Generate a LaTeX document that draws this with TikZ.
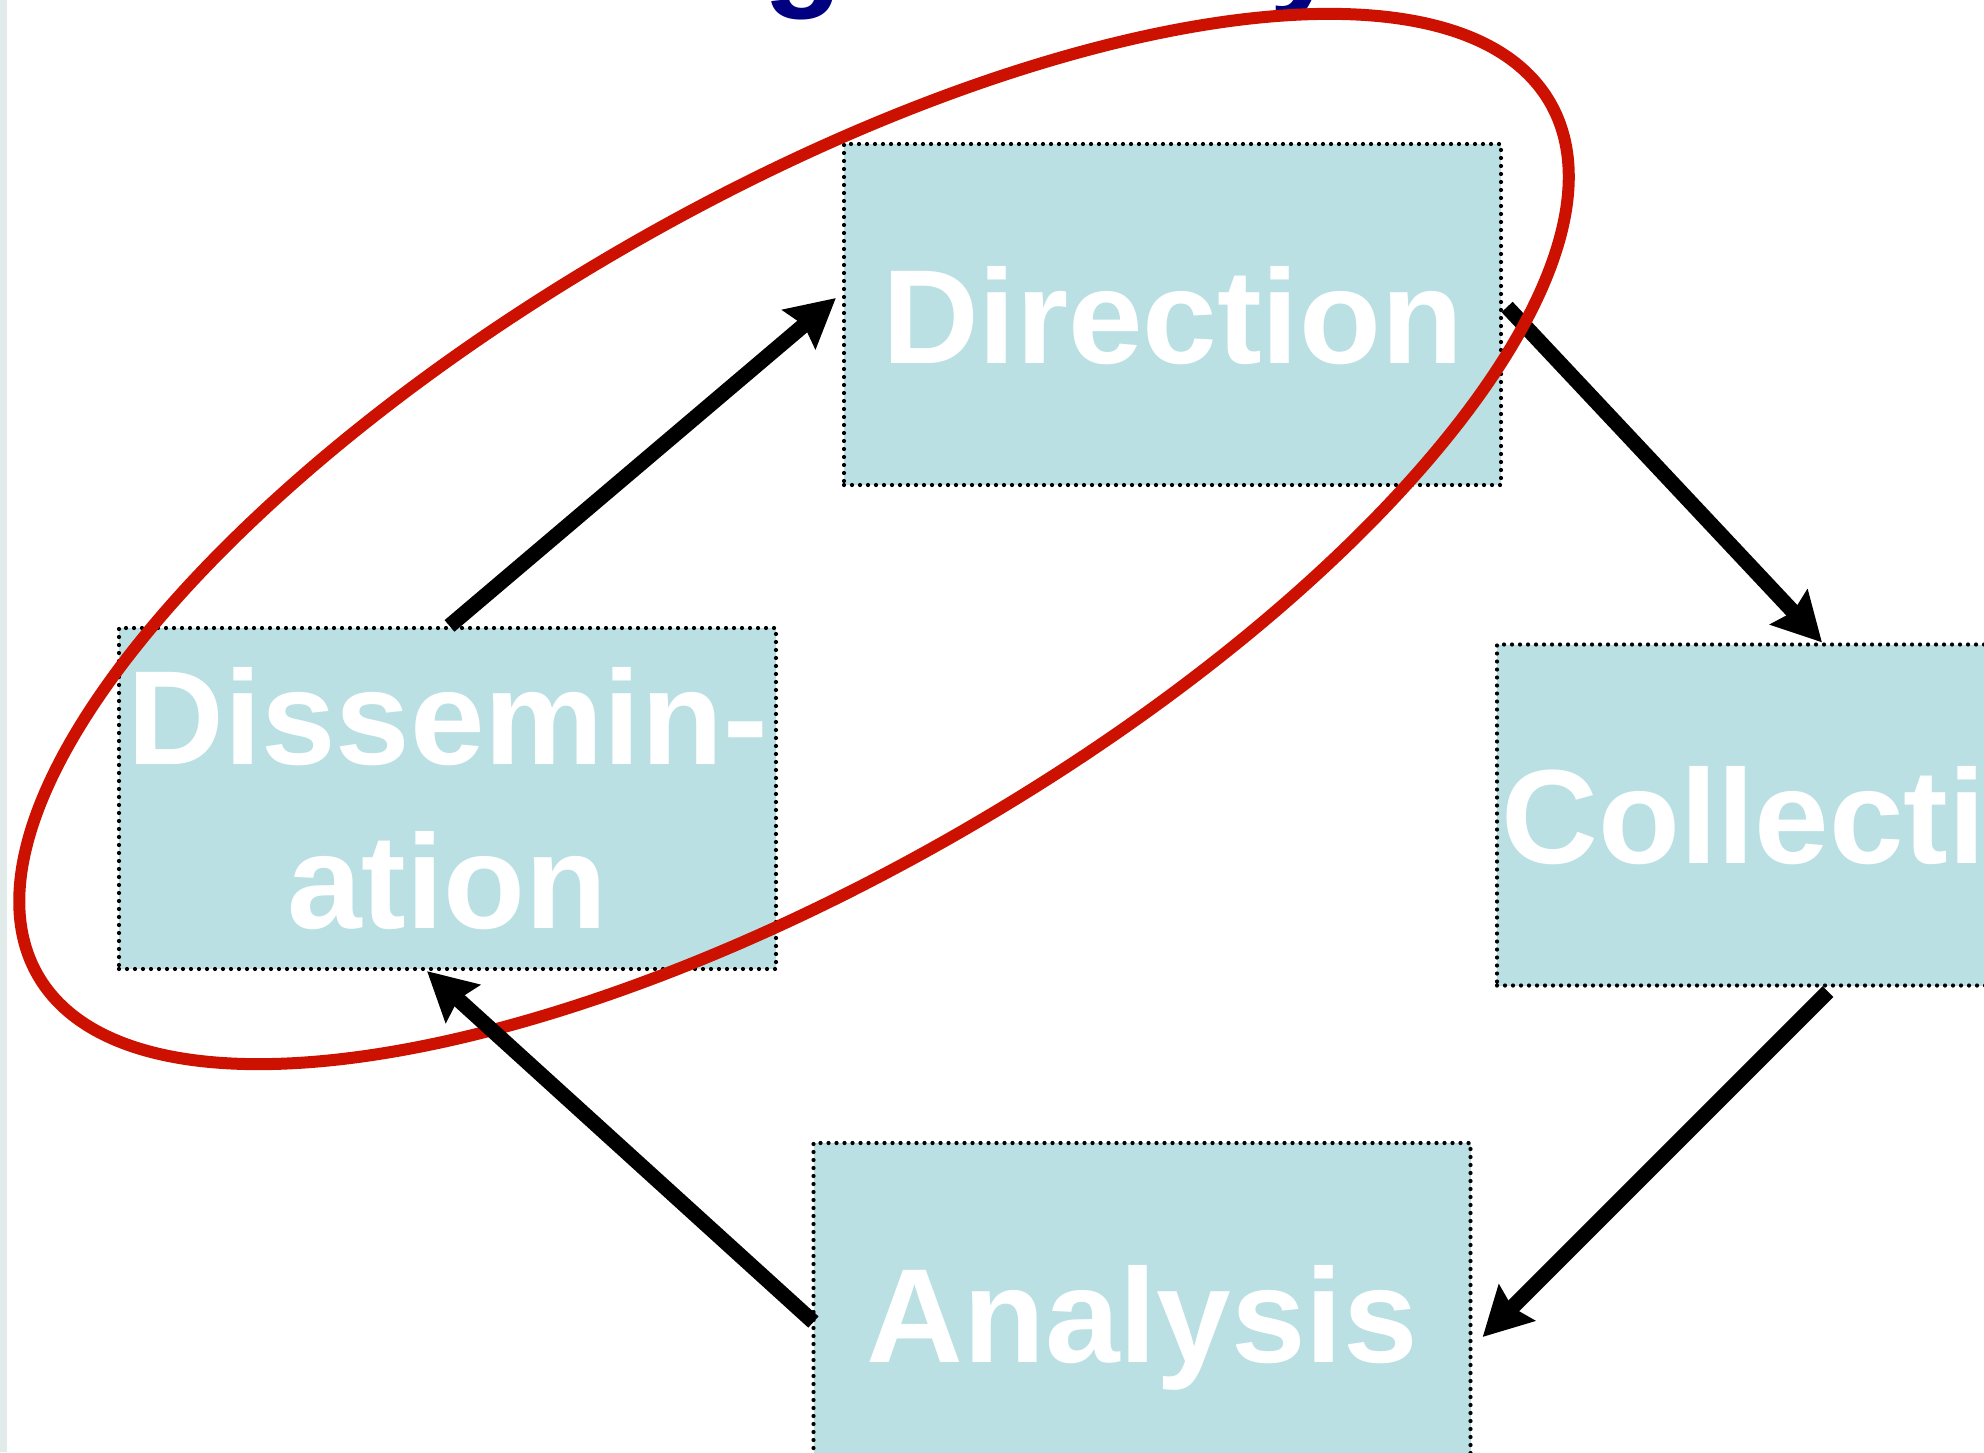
\documentclass[tikz,border=0pt]{standalone}
\usepackage{fontspec}
\setmainfont{Liberation Sans}
\usetikzlibrary{arrows.meta}
\definecolor{boxfill}{RGB}{186,224,227}
\definecolor{ringred}{RGB}{204,17,0}
\definecolor{titleblue}{RGB}{0,0,128}
\definecolor{stripgrey}{RGB}{225,236,234}
\tikzset{
  stagebox/.style={draw=black, line width=2.1pt, dash pattern=on 0pt off 4pt,
    line cap=round, fill=boxfill, minimum width=328.5pt, minimum height=170.5pt,
    inner sep=0pt, text=white, align=center,
    font=\fontsize{67}{82}\selectfont\bfseries},
  flow/.style={draw=black, line width=7.6pt, line cap=butt,
    -{Stealth[length=24pt, width=25pt, inset=3pt]}},
  ring/.style={draw=ringred, line width=6pt}
}
\begin{document}
\begin{tikzpicture}[x=0.5pt, y=-0.5pt]
\useasboundingbox (0,0) rectangle (1984,1452);
\clip (0,0) rectangle (1984,1452);
\fill[white] (0,0) rectangle (1984,1452);
\fill[stripgrey] (0,0) rectangle (7,1452);
\node[anchor=base west, inner sep=0pt, text=titleblue,
  font=\fontsize{65}{78}\selectfont\bfseries] (title) at (424,-8) {Intelligence Cycle};

\node[stagebox, text depth=0pt] (dir) at (1172.5,314.5) {Direction};
\node[stagebox] (dis) at (447.5,798.5) {Dissemin-\\ation};
\node[stagebox, text depth=0pt] (col) at (1825.5,815) {Collection};
\node[stagebox, text depth=0pt] (ana) at (1142,1313.5) {Analysis};

\draw[flow] ([xshift=2pt, yshift=3.75pt]dir.east) -- ([xshift=-1.75pt]col.north);

\coordinate (ringc) at (794,539);
\draw[ring, rotate around={30:(ringc)}] (ringc) ellipse [x radius=436.5pt, y radius=168.5pt];

\draw[flow] ([xshift=1pt]dis.north) -- ([xshift=-3pt, yshift=8.25pt]dir.west);
\draw[flow] ([xshift=1.25pt, yshift=-2pt]col.south) -- ([xshift=5pt, yshift=-11.75pt]ana.east);
\draw[flow] ([xshift=1pt, yshift=-4.25pt]ana.west) -- ([xshift=-10.25pt]dis.south);
\end{tikzpicture}
\end{document}
